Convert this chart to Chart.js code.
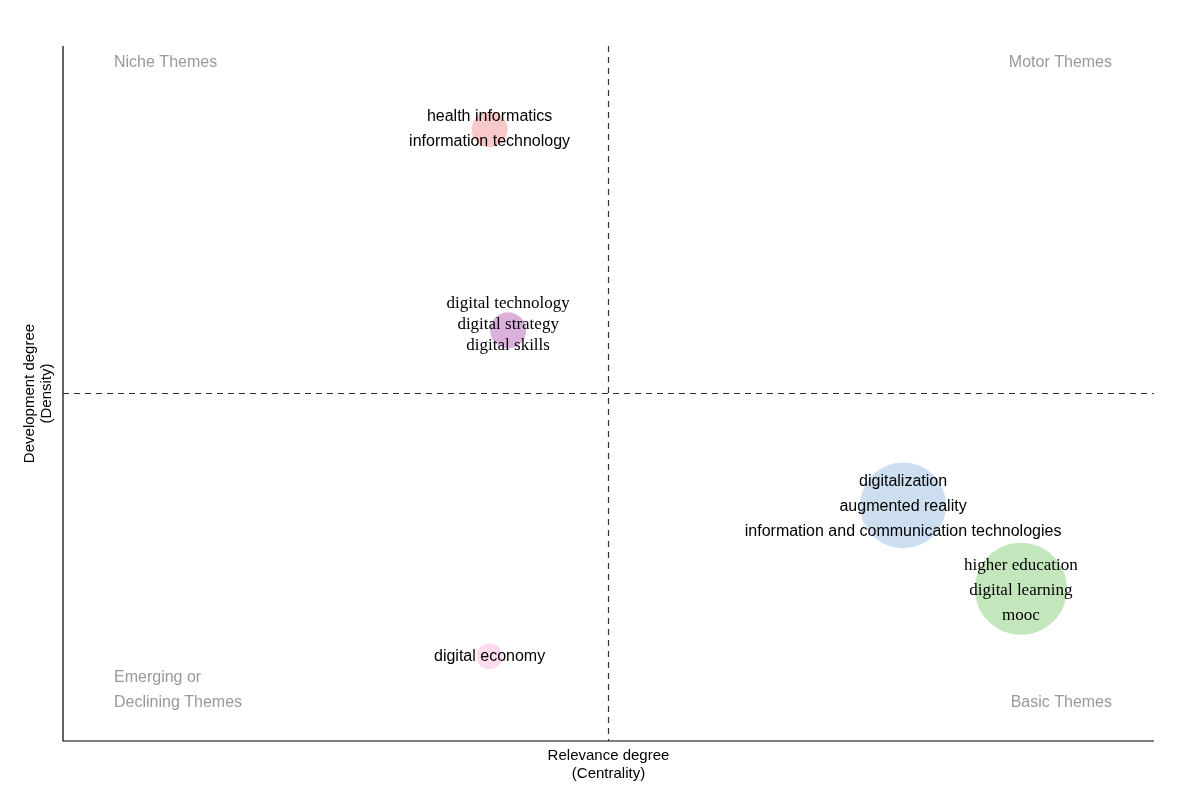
<!DOCTYPE html>
<html>
<head>
<meta charset="utf-8">
<script src="https://cdn.jsdelivr.net/npm/chart.js@4"></script>
<style>
body { margin: 0; background: #fff; }
#wrap { width: 1200px; height: 803px; }
</style>
</head>
<body>
<div id="wrap"><canvas id="map"></canvas></div>
<script>
// thematic map values (centrality, density), bubble size in px
const themes = [
    ['health informatics', 'information technology'],
    ['digital technology', 'digital strategy', 'digital skills'],
    ['digital economy'],
    ['digitalization', 'augmented reality', 'information and communication technologies'],
    ['higher education', 'digital learning', 'mooc']
];
const centrality = [0.391, 0.408, 0.391, 0.770, 0.878];
const density = [0.880, 0.591, 0.122, 0.339, 0.219];
const bubbleSize = [18, 18, 13, 43, 46];
const colors = ['rgba(244,165,165,0.6)', 'rgba(195,125,195,0.6)', 'rgba(248,195,225,0.6)',
    'rgba(170,200,228,0.6)', 'rgba(170,220,160,0.7)'];
const labelFonts = ['Arial', 'Times New Roman', 'Arial', 'Arial', 'Times New Roman'];
const labelShift = [0, -6, 0, 1, 2];

let points = centrality.map((c, i) => ({ x: c, y: density[i], r: bubbleSize[i] }));

const decorations = {
    id: 'decorations',
    afterDatasetsDraw(chart) {
        let ctx = chart.ctx;
        let a = chart.chartArea;
        let xs = chart.scales.x, ys = chart.scales.y;
        ctx.save();
        // axes
        ctx.strokeStyle = '#000';
        ctx.lineWidth = 1.2;
        ctx.beginPath();
        ctx.moveTo(a.left, a.top);
        ctx.lineTo(a.left, a.bottom);
        ctx.lineTo(a.right, a.bottom);
        ctx.stroke();
        // quadrant dashes
        ctx.setLineDash([6, 5]);
        ctx.strokeStyle = '#333';
        let mx = xs.getPixelForValue(0.5), my = ys.getPixelForValue(0.5);
        ctx.beginPath();
        ctx.moveTo(mx, a.top); ctx.lineTo(mx, a.bottom);
        ctx.moveTo(a.left, my); ctx.lineTo(a.right, my);
        ctx.stroke();
        ctx.setLineDash([]);
        // bubble labels
        ctx.fillStyle = '#000';
        ctx.textAlign = 'center';
        ctx.textBaseline = 'middle';
        themes.forEach((lines, i) => {
            let serif = labelFonts[i] !== 'Arial';
            let px = xs.getPixelForValue(centrality[i]);
            let py = ys.getPixelForValue(density[i]) + labelShift[i];
            let lh = serif && i === 1 ? 21 : 25;
            ctx.font = serif ? '17px "Times New Roman", "Liberation Serif", serif'
                : '16px Arial, "Liberation Sans", sans-serif';
            let start = py - (lines.length - 1) * lh / 2;
            lines.forEach((t, k) => ctx.fillText(t, px, start + k * lh));
        });
        // quadrant names
        ctx.fillStyle = '#999';
        ctx.font = '16px Arial, "Liberation Sans", sans-serif';
        ctx.textAlign = 'left';
        ctx.fillText('Niche Themes', 114, 63);
        ctx.fillText('Emerging or', 114, 678);
        ctx.fillText('Declining Themes', 114, 703);
        ctx.textAlign = 'right';
        ctx.fillText('Motor Themes', 1112, 63);
        ctx.fillText('Basic Themes', 1112, 703);
        // axis titles
        ctx.fillStyle = '#000';
        ctx.font = '15px Arial, "Liberation Sans", sans-serif';
        ctx.textAlign = 'center';
        ctx.fillText('Relevance degree', mx, 756);
        ctx.fillText('(Centrality)', mx, 774);
        ctx.translate(30, (a.top + a.bottom) / 2);
        ctx.rotate(-Math.PI / 2);
        ctx.fillText('Development degree', 0, 0);
        ctx.fillText('(Density)', 0, 17);
        ctx.restore();
    }
};

new Chart(document.getElementById('map').getContext('2d'), {
    type: 'bubble',
    data: {
        datasets: [{
            data: points,
            backgroundColor: colors,
            borderWidth: 0
        }]
    },
    options: {
        responsive: true,
        maintainAspectRatio: false,
        animation: false,
        layout: { padding: { left: 63, right: 20, top: 4, bottom: 62 } },
        scales: {
            x: { type: 'linear', min: 0, max: 1, display: false },
            y: { type: 'linear', min: 0, max: 1, display: false }
        },
        plugins: { legend: { display: false }, tooltip: { enabled: false } }
    },
    plugins: [decorations]
});
</script>
</body>
</html>
